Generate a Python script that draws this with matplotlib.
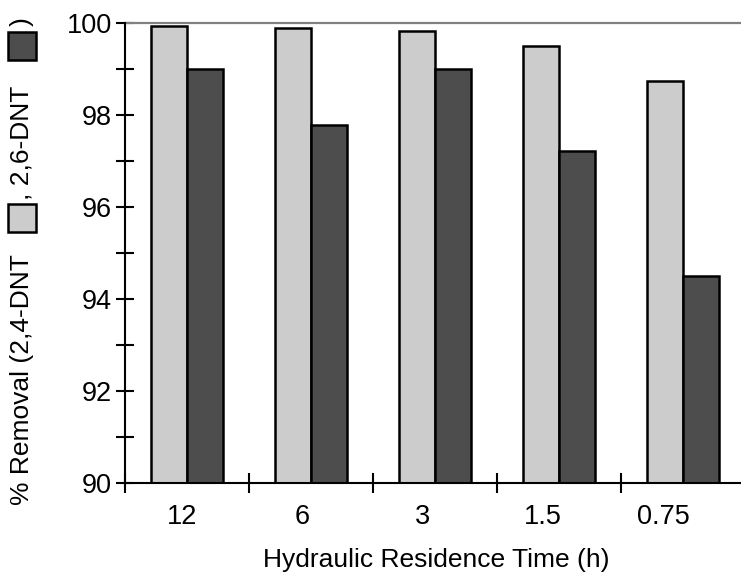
import numpy as np
import matplotlib
matplotlib.use("Agg")
import matplotlib.pyplot as plt
from matplotlib.patches import Rectangle

plt.rcParams["font.family"] = ["Liberation Sans", "DejaVu Sans"]

categories = ["12", "6", "3", "1.5", "0.75"]
dnt24 = [99.93, 99.90, 99.83, 99.50, 98.74]
dnt26 = [99.00, 97.79, 99.00, 97.22, 94.50]

light = "#cccccc"
dark = "#4d4d4d"

W, H = 741, 575
fig = plt.figure(figsize=(W / 100, H / 100), dpi=100)
ax = fig.add_axes([125 / W, 1 - 483 / H, 616 / W, 460 / H])

x = np.arange(len(categories))
bw = 0.29
ax.bar(x - bw / 2, dnt24, bw, bottom=0, color=light, edgecolor="black", linewidth=1.8, zorder=3)
ax.bar(x + bw / 2, dnt26, bw, bottom=0, color=dark, edgecolor="black", linewidth=1.8, zorder=3)

ax.set_xlim(-0.5, 4.47)
ax.set_ylim(90, 100)

fs = 19.5

# y axis
ax.set_yticks(np.arange(90, 101, 2))
ax.set_yticks(np.arange(91, 100, 2), minor=True)
ax.tick_params(axis="y", which="both", direction="inout", length=13, width=1.5,
               labelsize=fs, pad=3)

# x axis: ticks between categories, labels in the middle
ax.set_xticks(np.arange(-0.5, 4.0, 1.0))
ax.set_xticklabels([])
ax.set_xticks(x * 0.97 - 0.04, minor=True)
ax.set_xticklabels(categories, minor=True)
ax.tick_params(axis="x", which="major", direction="inout", length=14, width=1.5)
ax.tick_params(axis="x", which="minor", length=0, labelsize=fs, pad=15)

for s in ["left", "bottom"]:
    ax.spines[s].set_linewidth(1.5)
ax.spines["right"].set_visible(False)
ax.spines["top"].set_color("#808080")
ax.spines["top"].set_linewidth(1.6)
ax.spines["left"].set_zorder(5)
ax.spines["bottom"].set_zorder(5)

fig.text(436 / W, 1 - 567 / H, "Hydraulic Residence Time (h)", fontsize=19,
         ha="center", va="baseline")

# y label with inline legend squares, built bottom to top
fig.canvas.draw()
r = fig.canvas.get_renderer()
xc = 22
cur = H - 505
sq = 28
pieces = [("% Removal (2,4-DNT", 22), (light, 4), (", 2,6-DNT", 26), (dark, 6), (")", 0)]
for p, gap in pieces:
    if p.startswith("#"):
        fig.patches.append(Rectangle(((xc - sq / 2) / W, cur / H), sq / W, sq / H,
                                     transform=fig.transFigure, facecolor=p,
                                     edgecolor="black", linewidth=1.8))
        cur += sq + gap
    else:
        t = fig.text(xc / W, cur / H, p, rotation=90, ha="center", va="bottom",
                     fontsize=19)
        cur = t.get_window_extent(r).y1 + gap

fig.savefig("out.png", dpi=100)
